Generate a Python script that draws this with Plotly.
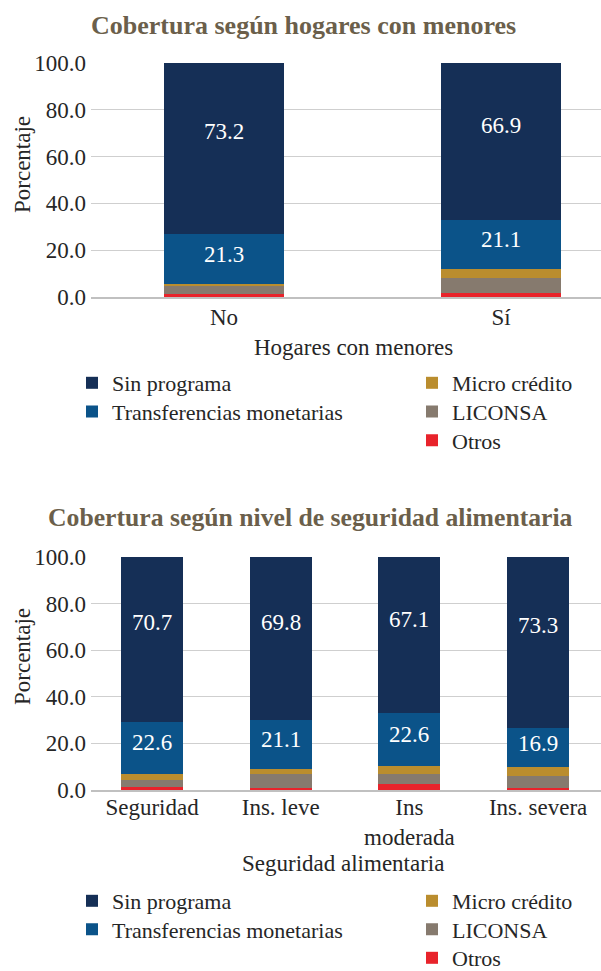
import plotly.graph_objects as go

W, H = 601, 971
FONT = "'Liberation Serif', 'Times New Roman', serif"
TXT = "#262626"
FS = 23
LFS = 22

series_names = ["Sin programa", "Transferencias monetarias", "Micro crédito", "LICONSA", "Otros"]
series_colors = ["#152f56", "#0b5389", "#ba8d2e", "#867a6e", "#e8232b"]
labelled = [True, True, False, False, False]
# legend layout: (column, row) for each series
legend_col = [0, 0, 1, 1, 1]
legend_row = [0, 1, 0, 1, 2]

# Chart 1
cat_top = ["No", "Sí"]
top_sin = [73.2, 66.9]
top_trans = [21.3, 21.1]
top_micro = [1.0, 3.7]
top_liconsa = [3.3, 6.5]
top_otros = [1.2, 1.8]

# Chart 2
cat_bot = ["Seguridad", "Ins. leve", "Ins<br>moderada", "Ins. severa"]
bot_sin = [70.7, 69.8, 67.1, 73.3]
bot_trans = [22.6, 21.1, 22.6, 16.9]
bot_micro = [2.4, 2.2, 3.6, 3.9]
bot_liconsa = [3.0, 5.9, 4.3, 4.9]
bot_otros = [1.3, 1.0, 2.4, 1.0]

y_ticks = [0, 20, 40, 60, 80, 100]

top_series = [top_sin, top_trans, top_micro, top_liconsa, top_otros]
bot_series = [bot_sin, bot_trans, bot_micro, bot_liconsa, bot_otros]

LABEL_FRAC = 0.6

def px_x(p):
    return p / W

def px_y(p):
    return 1 - p / H

fig = go.Figure()
annotations = []
legend_defs = {}
leg_counter = [0]

LEG_X = [72, 412]

def add_chart(cats, series, xa, ya, width, leg_top_row, row_gap):
    n = len(cats)
    base = [0.0] * n
    for idx in reversed(range(len(series_names))):
        vals = series[idx]
        leg_counter[0] += 1
        lname = "legend" if leg_counter[0] == 1 else f"legend{leg_counter[0]}"
        legend_defs[lname] = dict(
            font=dict(family=FONT, size=LFS, color=TXT), bgcolor="rgba(0,0,0,0)",
            xanchor="left", yanchor="middle",
            x=px_x(LEG_X[legend_col[idx]]),
            y=px_y(leg_top_row + row_gap * legend_row[idx]))
        fig.add_trace(go.Bar(
            x=cats, y=vals, name=series_names[idx],
            marker=dict(color=series_colors[idx], line=dict(width=0)),
            width=width, xaxis=xa, yaxis=ya, legend=lname,
            hoverinfo="skip",
        ))
        if labelled[idx]:
            for i, c in enumerate(cats):
                annotations.append(dict(
                    x=c, y=base[i] + LABEL_FRAC * vals[i], xref=xa, yref=ya,
                    text=f"{vals[i]:.1f}", showarrow=False,
                    font=dict(family=FONT, size=FS, color="white"),
                    xanchor="center", yanchor="middle"))
        base = [b + v for b, v in zip(base, vals)]

add_chart(cat_top, top_series, "x", "y", 0.433, 383, 28.7)
add_chart(cat_bot, bot_series, "x2", "y2", 0.482, 901, 28.5)

axis_y = dict(range=[0, 100], tickvals=y_ticks, tickformat=".1f", showgrid=True,
              gridcolor="#cfcfcf", gridwidth=1, zeroline=False, showline=False,
              ticks="", tickfont=dict(family=FONT, size=FS, color=TXT),
              ticklabelstandoff=4, fixedrange=True)
axis_x = dict(type="category", showgrid=False, zeroline=False, showline=True,
              linecolor="#c0c0c0", linewidth=2, ticks="",
              tickfont=dict(family=FONT, size=FS, color=TXT), fixedrange=True)

fig.update_layout(
    width=W, height=H, margin=dict(l=0, r=0, t=0, b=0, autoexpand=False),
    font=dict(family=FONT, size=FS, color=TXT),
    paper_bgcolor="white", plot_bgcolor="white", barmode="stack",
    showlegend=True,
    xaxis=dict(axis_x, domain=[px_x(91), 1], range=[-0.48, 1.361], anchor="y",
               ticklabelstandoff=-2),
    yaxis=dict(axis_y, domain=[px_y(297), px_y(63)], anchor="x"),
    xaxis2=dict(axis_x, domain=[px_x(91), 1], range=[-0.474, 3.489], anchor="y2",
                ticklabelstandoff=-5),
    yaxis2=dict(axis_y, domain=[px_y(790), px_y(557)], anchor="x2"),
)
fig.update_layout(**legend_defs)

def ann(text, x, y, size=FS, color=TXT, bold=False, angle=0):
    annotations.append(dict(
        text=f"<b>{text}</b>" if bold else text, x=px_x(x), y=px_y(y),
        xref="paper", yref="paper", showarrow=False, textangle=angle,
        font=dict(family=FONT, size=size, color=color),
        xanchor="center", yanchor="middle"))

TITLE_C = "#6b5f4b"
ann("Cobertura según hogares con menores", 303, 25, size=26, color=TITLE_C, bold=True)
ann("Porcentaje", 22, 165, angle=-90)
ann("Hogares con menores", 353, 347)
ann("Cobertura según nivel de seguridad alimentaria", 310, 517, size=25.7, color=TITLE_C, bold=True)
ann("Porcentaje", 22, 657, angle=-90)
ann("Seguridad alimentaria", 343, 863)

fig.update_layout(annotations=annotations)
fig.write_html("out.html")
